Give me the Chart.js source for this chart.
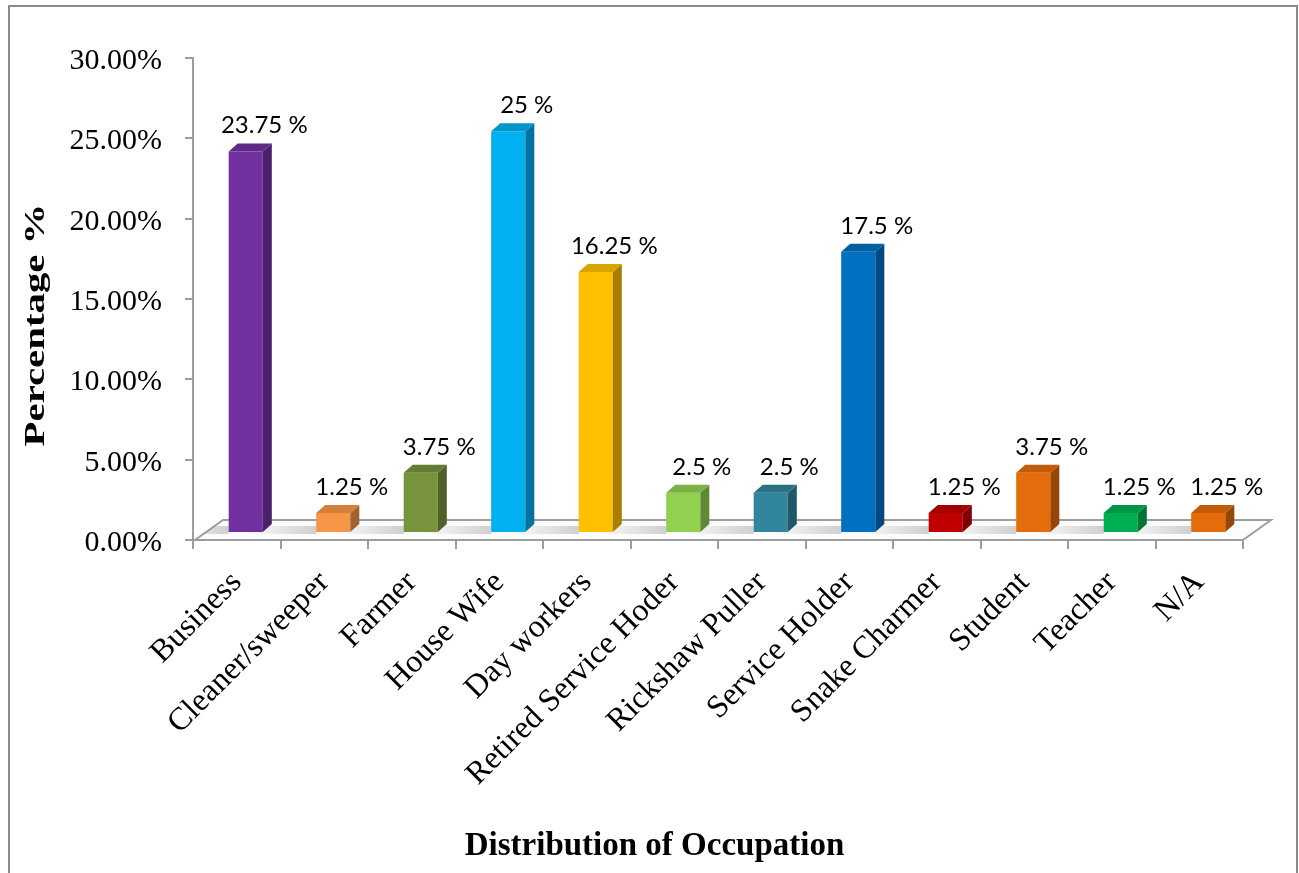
<!DOCTYPE html>
<html>
<head>
<meta charset="utf-8">
<title>Distribution of Occupation</title>
<script src="https://cdn.jsdelivr.net/npm/chart.js@4.4.1/dist/chart.umd.min.js"></script>
<style>
  html, body { margin: 0; padding: 0; background: #fff; }
  #wrap { width: 1299px; height: 873px; }
</style>
</head>
<body>
<div id="wrap"><canvas id="occChart" width="1299" height="873"></canvas></div>
<script>
const occupations = ["Business", "Cleaner/sweeper", "Farmer", "House Wife", "Day workers",
  "Retired Service Hoder", "Rickshaw Puller", "Service Holder", "Snake Charmer",
  "Student", "Teacher", "N/A"];
const shares = [23.75, 1.25, 3.75, 25, 16.25, 2.5, 2.5, 17.5, 1.25, 3.75, 1.25, 1.25];
const barColors = ["#7030A0", "#F79646", "#77933C", "#00B0F0", "#FFC000", "#92D050",
  "#31859C", "#0070C0", "#C00000", "#E46C0A", "#00B050", "#E46C0A"];

const axisMax = 30;
const axisStep = 5;
const xTitle = "Distribution of Occupation";
const yTitle = "Percentage %";

// fake 3D: bar depth, how far bars sit behind the front edge, and floor depth
const DEPTH_X = 9, DEPTH_Y = -8;
const SHIFT_X = 9, SHIFT_Y = -7;
const FLOOR_X = 28, FLOOR_Y = -20;
const AXIS_GREY = "#9d9d9d";

function shade(hex, f) {
  const n = parseInt(hex.slice(1), 16);
  let r = n >> 16, g = (n >> 8) & 255, b = n & 255;
  if (f < 1) {
    r *= f; g *= f; b *= f;
  } else {
    const t = f - 1;
    r += (255 - r) * t; g += (255 - g) * t; b += (255 - b) * t;
  }
  return "rgb(" + Math.round(r) + "," + Math.round(g) + "," + Math.round(b) + ")";
}

function floorPath(ctx, a) {
  const fl = a.left + 2, fr = a.right, fb = a.bottom;
  ctx.beginPath();
  ctx.moveTo(fl, fb);
  ctx.lineTo(fl + FLOOR_X, fb + FLOOR_Y);
  ctx.lineTo(fr + FLOOR_X, fb + FLOOR_Y);
  ctx.lineTo(fr, fb);
  ctx.closePath();
}

const box3d = {
  id: "box3d",
  beforeDraw(chart) {
    const ctx = chart.ctx;
    const a = chart.chartArea;
    ctx.save();
    // outer frame
    ctx.strokeStyle = "#8a8a8a";
    ctx.lineWidth = 2;
    ctx.strokeRect(9, 6, chart.width - 11, chart.height + 10);

    // floor plate
    floorPath(ctx, a);
    ctx.fillStyle = "#fcfcfc";
    ctx.fill();
    ctx.strokeStyle = AXIS_GREY;
    ctx.lineWidth = 2;
    ctx.beginPath();
    ctx.moveTo(a.left + 2, a.bottom);
    ctx.lineTo(a.left + 2 + FLOOR_X, a.bottom + FLOOR_Y);
    ctx.lineTo(a.right + FLOOR_X, a.bottom + FLOOR_Y);
    ctx.lineTo(a.right, a.bottom);
    ctx.stroke();
    ctx.restore();
  },
  beforeDatasetsDraw(chart) {
    const ctx = chart.ctx;
    const bars = chart.getDatasetMeta(0).data;
    ctx.save();
    // soft shadows thrown to the left of each column onto the floor
    floorPath(ctx, chart.chartArea);
    ctx.clip();
    bars.forEach(el => {
      const p = el.getProps(["x", "base", "width"], true);
      const left = p.x - p.width / 2 + SHIFT_X;
      const g = ctx.createLinearGradient(left - 70, 0, left, 0);
      g.addColorStop(0, "rgba(140,140,140,0)");
      g.addColorStop(1, "rgba(140,140,140,0.4)");
      ctx.fillStyle = g;
      ctx.fillRect(left - 70, p.base + SHIFT_Y - 6, 70, 8);
    });
    ctx.restore();
    ctx.save();
    ctx.translate(SHIFT_X, SHIFT_Y);
  },
  afterDatasetsDraw(chart) {
    const ctx = chart.ctx;
    const bars = chart.getDatasetMeta(0).data;
    bars.forEach((el, i) => {
      const p = el.getProps(["x", "y", "base", "width"], true);
      const l = p.x - p.width / 2, r = p.x + p.width / 2;
      const col = barColors[i];
      // side face
      ctx.beginPath();
      ctx.moveTo(r, p.y);
      ctx.lineTo(r + DEPTH_X, p.y + DEPTH_Y);
      ctx.lineTo(r + DEPTH_X, p.base + DEPTH_Y);
      ctx.lineTo(r, p.base);
      ctx.closePath();
      ctx.fillStyle = shade(col, 0.66);
      ctx.fill();
      // top face
      ctx.beginPath();
      ctx.moveTo(l, p.y);
      ctx.lineTo(l + DEPTH_X, p.y + DEPTH_Y);
      ctx.lineTo(r + DEPTH_X, p.y + DEPTH_Y);
      ctx.lineTo(r, p.y);
      ctx.closePath();
      ctx.fillStyle = shade(col, 0.85);
      ctx.fill();
    });
    // value labels
    ctx.fillStyle = "#000";
    ctx.font = "24px Lato";
    ctx.textAlign = "center";
    ctx.textBaseline = "alphabetic";
    bars.forEach((el, i) => {
      const p = el.getProps(["x", "y"], true);
      ctx.fillText(shares[i] + " %", p.x + DEPTH_X / 2 + 14, p.y + DEPTH_Y - 10);
    });
    ctx.restore();
  },
  afterDraw(chart) {
    const ctx = chart.ctx;
    ctx.save();
    ctx.fillStyle = "#000";
    ctx.font = "bold 33px 'Liberation Serif'";
    ctx.textAlign = "center";
    ctx.textBaseline = "middle";
    ctx.fillText(xTitle, chart.width / 2 + 5, 846);

    // vertical axis title, drawn long and narrow
    ctx.translate(36, 325);
    ctx.rotate(-Math.PI / 2);
    ctx.scale(1.36, 1);
    ctx.font = "bold 30px 'Liberation Serif'";
    ctx.fillText(yTitle, 0, 0);
    ctx.restore();
  }
};

new Chart(document.getElementById("occChart"), {
  type: "bar",
  data: {
    labels: occupations,
    datasets: [{
      data: shares,
      backgroundColor: barColors,
      borderWidth: 0,
      categoryPercentage: 1,
      barPercentage: 0.39
    }]
  },
  options: {
    responsive: false,
    animation: false,
    devicePixelRatio: 1,
    layout: { padding: { left: 8, right: 56, top: 58, bottom: 48 } },
    plugins: {
      legend: { display: false },
      tooltip: { enabled: false }
    },
    scales: {
      x: {
        afterFit(scale) { scale.height = 285; },
        grid: {
          display: true, drawOnChartArea: false, drawTicks: true,
          tickLength: 9, color: AXIS_GREY, lineWidth: 2
        },
        border: { display: true, color: AXIS_GREY, width: 2 },
        ticks: {
          autoSkip: false, minRotation: 45, maxRotation: 45, padding: 15,
          color: "#000", font: { family: "'Liberation Serif'", size: 32 }
        }
      },
      y: {
        min: 0,
        max: axisMax,
        afterFit(scale) { scale.width = 185; },
        grid: {
          display: true, drawOnChartArea: false, drawTicks: true,
          tickLength: 8, color: AXIS_GREY, lineWidth: 2
        },
        border: { display: true, color: AXIS_GREY, width: 2 },
        ticks: {
          stepSize: axisStep, padding: 23, labelOffset: 3, color: "#000",
          font: { family: "'Liberation Serif'", size: 30 },
          callback: v => v.toFixed(2) + "%"
        }
      }
    }
  },
  plugins: [box3d]
});
</script>
</body>
</html>
